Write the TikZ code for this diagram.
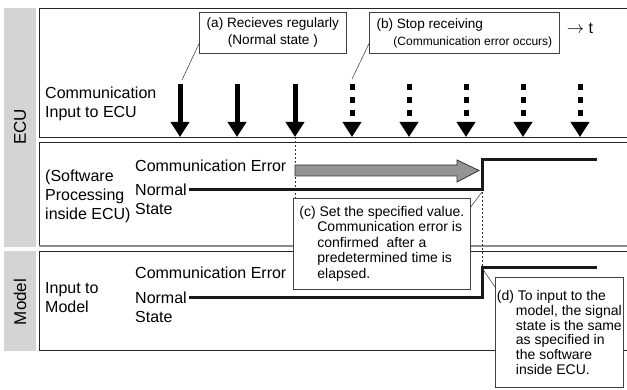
\documentclass[tikz,border=0pt]{standalone}
\usepackage{fontspec}
\setmainfont{Liberation Sans}
\usetikzlibrary{positioning}
\usetikzlibrary{arrows.meta}

\tikzset{
  sidebar/.style={fill=black!17},
  panel/.style={draw=black!85, line width=0.9pt},
  lbl/.style={inner sep=0pt, align=left, font=\fontsize{16}{19}\selectfont},
  note/.style={draw=black!75, fill=white, line width=0.7pt, inner sep=0pt, font=\fontsize{13.6}{17}\selectfont},
  leader/.style={draw=black!80, line width=0.5pt},
  pulse/.style={line width=5pt, -{Triangle[width=18pt,length=15pt]}},
  lostpulse/.style={pulse, dash pattern=on 6pt off 7pt},
  signal/.style={line width=3pt, line join=miter, draw=black!90},
  guide/.style={draw=black!80, line width=0.6pt, dash pattern=on 2pt off 2pt},
}

\begin{document}
\begin{tikzpicture}[x=1pt,y=-1pt]
  \useasboundingbox (0,0) rectangle (627,390);

  % Side bars
  \fill[sidebar] (4,8) rectangle (36,247);
  \fill[sidebar] (4,251) rectangle (36,351);
  \node[rotate=90, inner sep=0pt, font=\fontsize{17}{20}\selectfont] (ecu) at (20,127) {ECU};
  \node[rotate=90, inner sep=0pt, font=\fontsize{17}{20}\selectfont] (mdl) at (20,302) {Model};

  % Panels
  \draw[panel] (627,8) -| (39,137) -- (627,137);
  \draw[panel] (627,142) -| (39,246);
  \draw[panel, draw=black!45, line width=1.4pt] (39,246) -- (627,246);
  \draw[panel] (627,251) -| (39,350) -- (627,350);

  % Row labels
  \node[lbl, anchor=west] (comin) at (45,104) {Communication\\Input to ECU};
  \node[lbl, anchor=west] (swproc) at (45,196) {(Software\\Processing\\inside ECU)};
  \node[lbl, anchor=west] (mdlin) at (45,298) {Input to\\Model};
  \node[lbl, anchor=west] (err1) at (135,166) {Communication Error};
  \node[lbl, anchor=west] (nrm1) at (135,199) {Normal\\State};
  \node[lbl, anchor=west] (err2) at (135,273) {Communication Error};
  \node[lbl, anchor=west] (nrm2) at (135,307) {Normal\\State};
  \node[inner sep=0pt, font=\fontsize{16}{19}\selectfont] (time) at (580,28) {$\rightarrow$ t};

  % Received and lost messages
  \foreach \n/\x in {1/180,2/237,3/295} {
    \coordinate (src\n) at (\x,84);
    \coordinate (rx\n) at (\x,137);
    \draw[pulse] (src\n) -- (rx\n);
  }
  \foreach \n/\x in {4/352,5/409,6/466,7/523,8/580} {
    \coordinate (src\n) at (\x,84);
    \coordinate (rx\n) at (\x,137);
    \draw[lostpulse] (src\n) -- (rx\n);
  }

  % Guides
  \coordinate (cut1) at (295,246);
  \coordinate (stepA) at (482,192);
  \coordinate (stepB) at (482,268);
  \draw[guide] (rx3) -- (cut1);
  \draw[guide] (stepA) -- (stepB);

  % Error confirmation time
  \draw[fill=black!42, draw=black!80, line width=0.8pt]
    (295,165) -- (457,165) -- (457,160) -- (479,170.5) -- (457,182) -- (457,176) -- (295,176) -- cycle;

  % Signal states
  \coordinate (sw1) at (189,190);
  \coordinate (sw2) at (189,298);
  \draw[signal] (sw1) -- (482,190) |- (597,160);
  \draw[signal] (sw2) -- (482,298) |- (597,268);

  % Notes
  \node[note, anchor=north west, minimum width=147pt, minimum height=41pt, align=center] (nota) at (199,12)
    {(a) Recieves regularly\\(Normal state )};
  \node[note, anchor=north west, minimum width=190pt, minimum height=41pt, align=left] (notb) at (369,12)
    {(b) Stop receiving\\\hspace*{17pt}{\fontsize{12}{14}\selectfont(Communication error occurs)}};
  \node[note, anchor=north west, minimum width=177pt, minimum height=91pt, align=left,
        font=\fontsize{14}{15.5}\selectfont] (notc) at (293,198)
    {(c) Set the specified value.\\\hspace*{18pt}Communication error is\\\hspace*{18pt}confirmed\ \ after a\\\hspace*{18pt}predetermined time is\\\hspace*{18pt}elapsed.};
  \node[note, anchor=north west, minimum width=128pt, minimum height=110pt, align=left,
        font=\fontsize{14}{14.7}\selectfont] (notd) at (495,277)
    {(d) To input to the\\\hspace*{19pt}model, the signal\\\hspace*{19pt}state is the same\\\hspace*{19pt}as specified in\\\hspace*{19pt}the software\\\hspace*{19pt}inside ECU.};

  % Leaders
  \coordinate (la) at (182,80);
  \coordinate (lb) at (352,79);
  \draw[leader] ([yshift=10pt]nota.south west) -- (la);
  \draw[leader] ([yshift=10pt]notb.south west) -- (lb);
  \draw[leader] ([yshift=-9pt]notc.north east) -- (stepA);
  \draw[leader] ([yshift=-10pt]notd.north west) -- (stepB);

\end{tikzpicture}
\end{document}
